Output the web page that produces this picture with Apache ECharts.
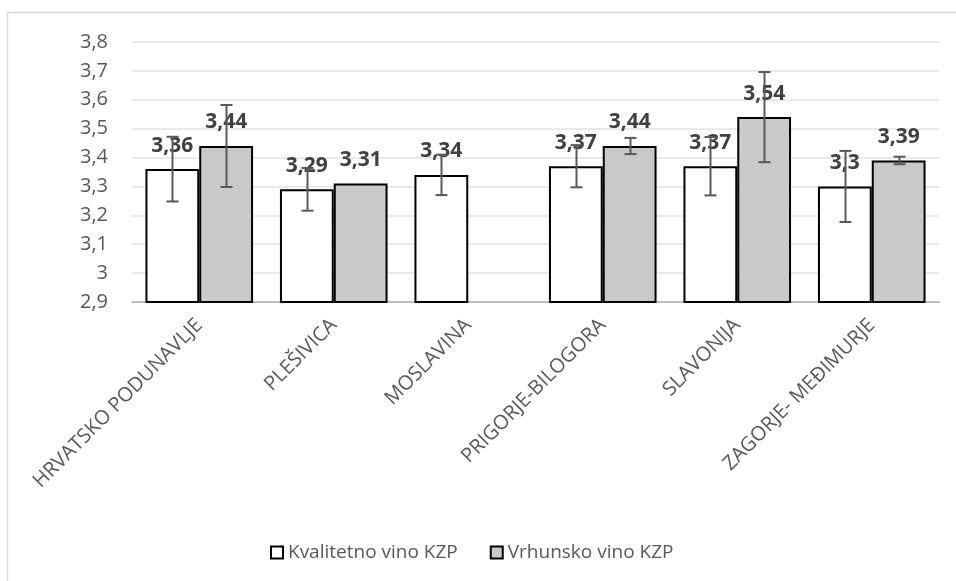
<!DOCTYPE html>
<html>
<head>
<meta charset="utf-8">
<script src="https://cdn.jsdelivr.net/npm/echarts@6/dist/echarts.min.js"></script>
<style>
html,body{margin:0;padding:0;background:#fff;}
#chart{width:956px;height:581px;}
</style>
</head>
<body>
<div id="chart"></div>
<script>
const categories = ['HRVATSKO PODUNAVLJE', 'PLEŠIVICA', 'MOSLAVINA', 'PRIGORJE-BILOGORA', 'SLAVONIJA', 'ZAGORJE- MEĐIMURJE'];
const kvalitetno = [3.36, 3.29, 3.34, 3.37, 3.37, 3.3];
const vrhunsko = [3.44, 3.31, null, 3.44, 3.54, 3.39];
const kvalitetnoErr = [0.112, 0.074, 0.07, 0.073, 0.101, 0.123];
const vrhunskoErr = [0.142, null, null, 0.028, 0.156, 0.013];
const seriesNames = ['Kvalitetno vino KZP', 'Vrhunsko vino KZP'];
const yTicks = { min: 2.9, max: 3.8, interval: 0.1 };

const FONT = '"Open Sans", "Liberation Sans", sans-serif';
const fmt = v => String(Math.round(v * 100) / 100).replace('.', ',');

function errData(vals, errs) {
  const out = [];
  vals.forEach((v, i) => {
    if (v != null && errs[i] != null) out.push([i, v, errs[i]]);
  });
  return out;
}

function errRender(offsetFrac) {
  return function (params, api) {
    const i = api.value(0), v = api.value(1), e = api.value(2);
    const bw = api.size([1, 0])[0];
    const c = api.coord([i, v]);
    const x = Math.round(c[0] + offsetFrac * bw) + 0.5;
    const top = api.coord([i, v + e])[1];
    const bot = api.coord([i, v - e])[1];
    const w = 6;
    const st = { stroke: '#595959', lineWidth: 2 };
    return {
      type: 'group',
      children: [
        { type: 'line', shape: { x1: x, y1: top, x2: x, y2: bot }, style: st },
        { type: 'line', shape: { x1: x - w, y1: top, x2: x + w, y2: top }, style: st },
        { type: 'line', shape: { x1: x - w, y1: bot, x2: x + w, y2: bot }, style: st }
      ]
    };
  };
}

const chart = echarts.init(document.getElementById('chart'));
const barLabel = {
  show: true,
  position: 'top',
  distance: 13,
  color: '#404040',
  fontFamily: FONT,
  fontWeight: 'bold',
  fontSize: 21,
  formatter: p => fmt(p.value)
};

chart.setOption({
  animation: false,
  backgroundColor: '#fff',
  graphic: [{
    type: 'rect',
    shape: { x: 7.5, y: 12.5, width: 1200, height: 1200 },
    style: { fill: 'none', stroke: '#d9d9d9', lineWidth: 1.5 },
    z: -1
  }],
  grid: { left: 132, right: 17, top: 42, bottom: 279, containLabel: false },
  legend: {
    data: seriesNames,
    left: 265,
    top: 538,
    icon: 'rect',
    itemWidth: 12,
    itemHeight: 12,
    itemGap: 32,
    textStyle: { color: '#595959', fontSize: 19, fontFamily: FONT }
  },
  xAxis: {
    type: 'category',
    data: categories,
    axisLine: { show: true, lineStyle: { color: '#bfbfbf', width: 2 } },
    axisTick: { show: false },
    axisLabel: {
      rotate: 45,
      interval: 0,
      margin: 20,
      color: '#595959',
      fontSize: 20,
      fontFamily: FONT
    }
  },
  yAxis: {
    type: 'value',
    min: yTicks.min,
    max: yTicks.max,
    interval: yTicks.interval,
    axisLine: { show: false },
    axisTick: { show: false },
    splitLine: { lineStyle: { color: '#e3e3e3', width: 1.5 } },
    axisLabel: {
      margin: 24,
      color: '#595959',
      fontSize: 20,
      fontFamily: FONT,
      formatter: v => String(Math.round(v * 10) / 10).replace('.', ',')
    }
  },
  series: [
    {
      name: seriesNames[0],
      type: 'bar',
      data: kvalitetno,
      barGap: '0%',
      barCategoryGap: '20%',
      itemStyle: { color: '#ffffff', borderColor: '#000000', borderWidth: 2 },
      label: barLabel,
      z: 2
    },
    {
      name: seriesNames[1],
      type: 'bar',
      data: vrhunsko,
      itemStyle: { color: '#c9c9c9', borderColor: '#000000', borderWidth: 2 },
      label: barLabel,
      z: 2
    },
    {
      name: 'errK',
      type: 'custom',
      data: errData(kvalitetno, kvalitetnoErr),
      renderItem: errRender(-0.2),
      z: 10,
      silent: true
    },
    {
      name: 'errV',
      type: 'custom',
      data: errData(vrhunsko, vrhunskoErr),
      renderItem: errRender(0.2),
      z: 10,
      silent: true
    }
  ]
});
</script>
</body>
</html>
